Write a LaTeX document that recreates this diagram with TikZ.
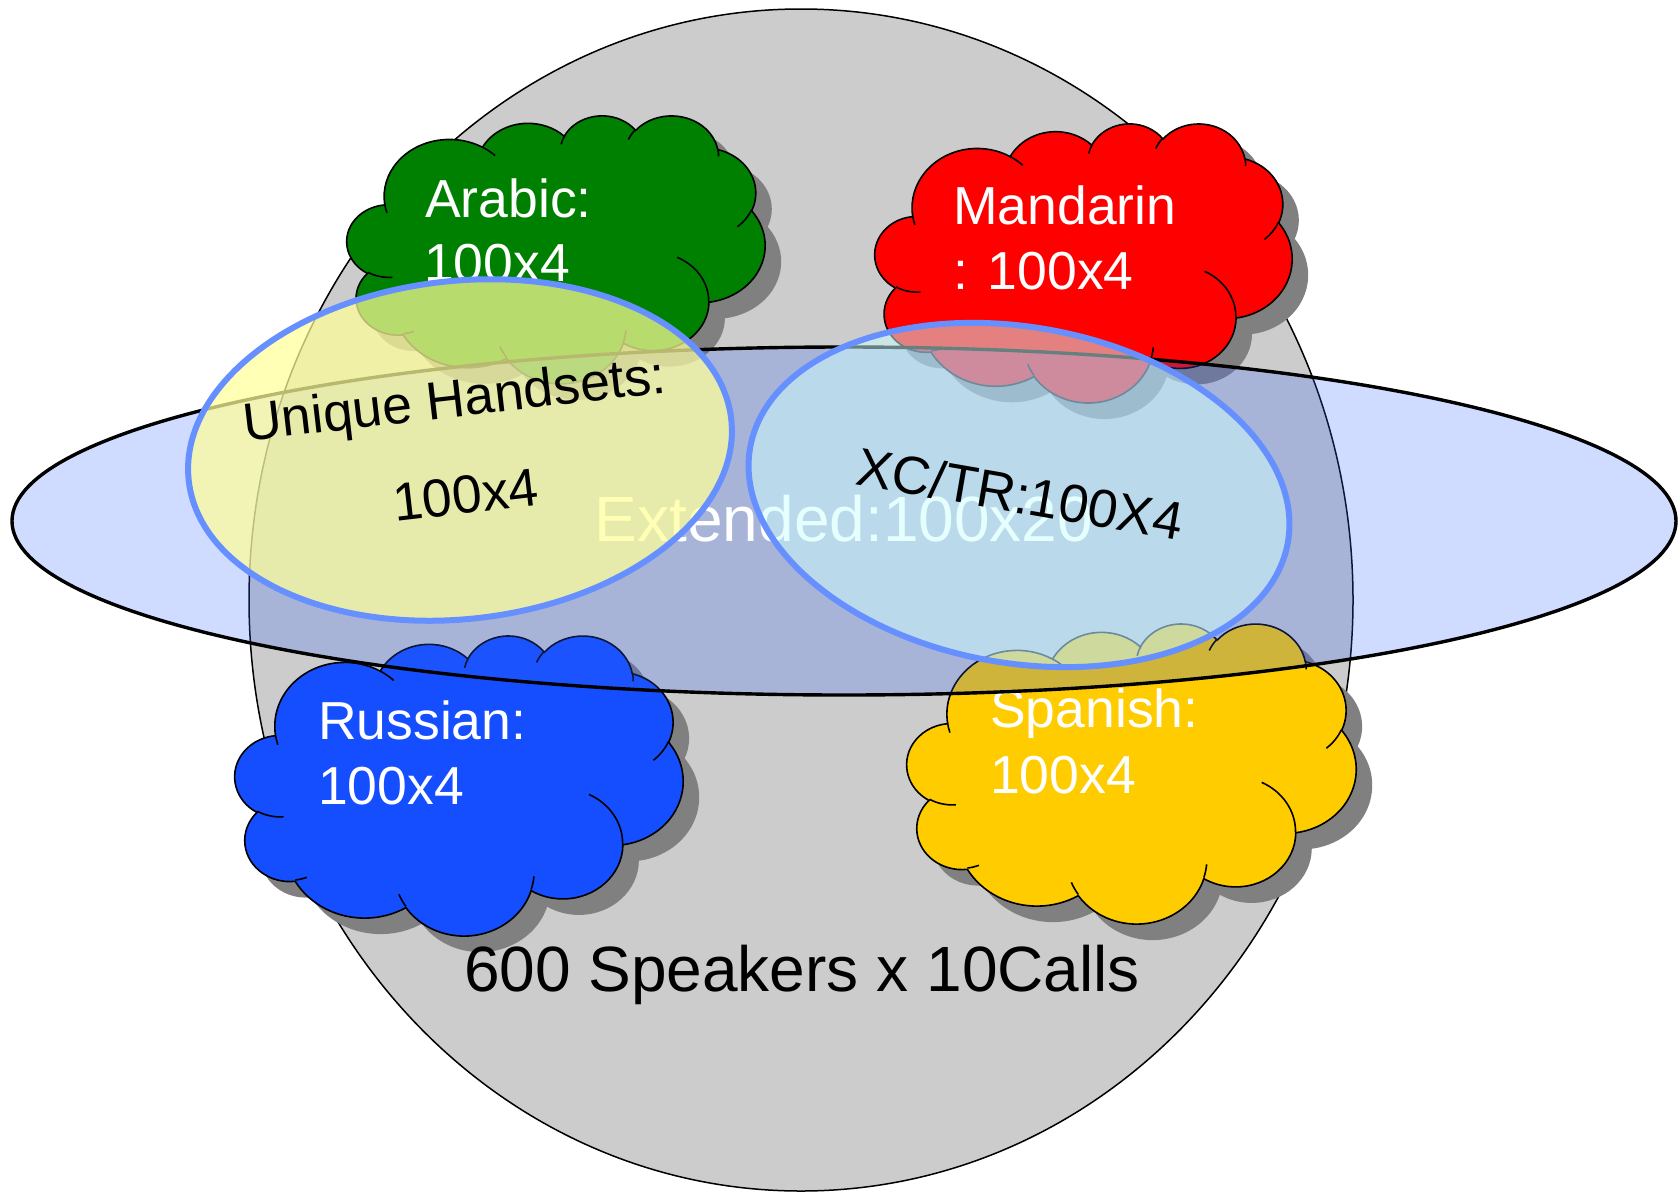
\documentclass[tikz,border=0pt]{standalone}
\usepackage{fontspec}
\setmainfont{Liberation Sans}
\definecolor{circgray}{HTML}{CCCCCC}
\definecolor{shadowgray}{HTML}{808080}
\definecolor{arabicgreen}{HTML}{008000}
\definecolor{mandarinred}{HTML}{FF0000}
\definecolor{russianblue}{HTML}{144EFF}
\definecolor{spanishyellow}{HTML}{FFCC00}
\definecolor{extblue}{HTML}{3366FF}
\definecolor{uhyellow}{HTML}{FFFF99}
\definecolor{xccyan}{HTML}{CCFFFF}
\definecolor{rimblue}{HTML}{6690FF}

% arc given as in DrawingML: wR hR stAng swAng (visual angles, degrees)
\newcommand\carc[4]{arc[start angle={atan2(#1*sin(#3),#2*cos(#3))}, delta angle={mod(atan2(#1*sin(#3+#4),#2*cos(#3+#4))-atan2(#1*sin(#3),#2*cos(#3))+720,360)}, x radius=#1, y radius=#2]}

\newcommand\cloudouter{(3.9,14.37) \carc{6.753}{9.19}{-190.487}{123.781} \carc{5.333}{7.267}{-144.102}{89.945} \carc{4.365}{5.945}{-145.808}{99.723} \carc{4.857}{6.595}{-130.986}{117.242} \carc{5.333}{7.273}{-78.709}{109.027} \carc{6.775}{9.22}{-46.267}{130.269} \carc{5.785}{7.867}{0.625}{114.033} \carc{6.752}{9.215}{22.452}{115.173} \carc{7.72}{10.543}{66.243}{75.711} \carc{4.36}{5.918}{-274.942}{146.736} \carc{4.345}{5.945}{-246.829}{152.519} -- cycle}

\newcommand\cloudinner{(4.693,26.177) \carc{4.345}{5.945}{86.742}{26.430} (6.928,34.899) \carc{4.36}{5.918}{73.610}{11.447} (16.478,39.09) \carc{6.752}{9.215}{137.624}{14.081} (28.827,34.751) \carc{6.752}{9.215}{6.453}{15.998} (34.129,22.954) \carc{5.785}{7.867}{-70.292}{70.917} (41.798,15.354) \carc{5.333}{7.273}{30.318}{27.752} (38.324,5.426) \carc{4.857}{6.595}{-13.744}{14.859} (29.078,3.952) \carc{4.857}{6.595}{-149.181}{18.195} (22.141,4.72) \carc{4.365}{5.945}{-163.494}{17.686} (14,5.192) \carc{6.753}{9.19}{-66.707}{12.319} (4.127,15.789) \carc{6.753}{9.19}{157.654}{11.858}}

% #1 left, #2 top, #3 x unit, #4 y unit, #5 colour
\newcommand\langcloud[5]{%
\begin{scope}[xshift=#1pt, yshift=-#2pt, x=#3pt, y=-#4pt]
  \fill[shadowgray, xshift=16pt, yshift=-16pt] \cloudouter;
  \filldraw[fill=#5, draw=black, line width=1.6pt] \cloudouter;
  \draw[black, line width=1.6pt] \cloudinner;
\end{scope}}

\tikzset{
  cloudtext/.style={text=white, font=\fontsize{53.5}{62}\selectfont, anchor=base west, inner sep=0pt},
  bigtext/.style={font=\fontsize{64}{76}\selectfont, anchor=base, inner sep=0pt},
  rimellipse/.style={draw=rimblue, line width=6pt}
}

\begin{document}
\begin{tikzpicture}[x=1pt, y=-1pt]
\useasboundingbox (0,0) rectangle (1680,1191);
\fill[white] (0,0) rectangle (1680,1191);

% speakers disc
\draw[fill=circgray, draw=black, line width=1.5pt] (801,600) ellipse [x radius=552, y radius=591];

% language clouds
\langcloud{347}{115}{9.676}{6.2}{arabicgreen}
\langcloud{875}{123}{9.653}{6.458}{mandarinred}
\langcloud{235}{635}{10.370}{6.944}{russianblue}
\langcloud{907}{623}{10.394}{6.944}{spanishyellow}

\node[cloudtext] (arabica) at (425,217) {Arabic:};
\begin{scope}[even odd rule]
  \clip (0,0) rectangle (1680,1191) {[rotate around={6.5:(460,450)}] (460,450) ellipse [x radius=276, y radius=172]};
  \node[cloudtext] (arabicb) at (424,281) {100x4};
\end{scope}
\node[cloudtext] (mandarina) at (953,224) {Mandarin};
\node[cloudtext] (mandarinb) at (953,289) {: 100x4};
\node[cloudtext] (russiana) at (318,739) {Russian:};
\node[cloudtext] (russianb) at (318,804) {100x4};
\node[cloudtext] (spanisha) at (990,727) {Spanish:};
\node[cloudtext] (spanishb) at (990,793) {100x4};

% extended ellipse
\draw[fill=extblue, fill opacity=0.23, draw=black, line width=3.4pt] (844,521) ellipse [x radius=832, y radius=174];
\node[bigtext, text=white] (ext) at (844,541) {Extended:100x20};

\node[bigtext, text=black] (speakers) at (802,991) {600 Speakers x 10Calls};

% unique handsets and XC/TR ellipses
\draw[rimellipse, fill=uhyellow, fill opacity=0.72, rotate around={6.5:(460,450)}] (460,450) ellipse [x radius=273, y radius=169];
\draw[rimellipse, fill=xccyan, fill opacity=0.5, rotate around={-10:(1019,495)}] (1019,495) ellipse [x radius=273, y radius=168];

\node[rotate=6.6, align=center, font=\fontsize{53.5}{97}\selectfont, inner sep=0pt] (uh) at (460,446) {Unique Handsets:\\100x4};
\node[rotate=-9.8, font=\fontsize{53.5}{62}\selectfont, inner sep=0pt] (xc) at (1020,494) {XC/TR:100X4};
\end{tikzpicture}
\end{document}
